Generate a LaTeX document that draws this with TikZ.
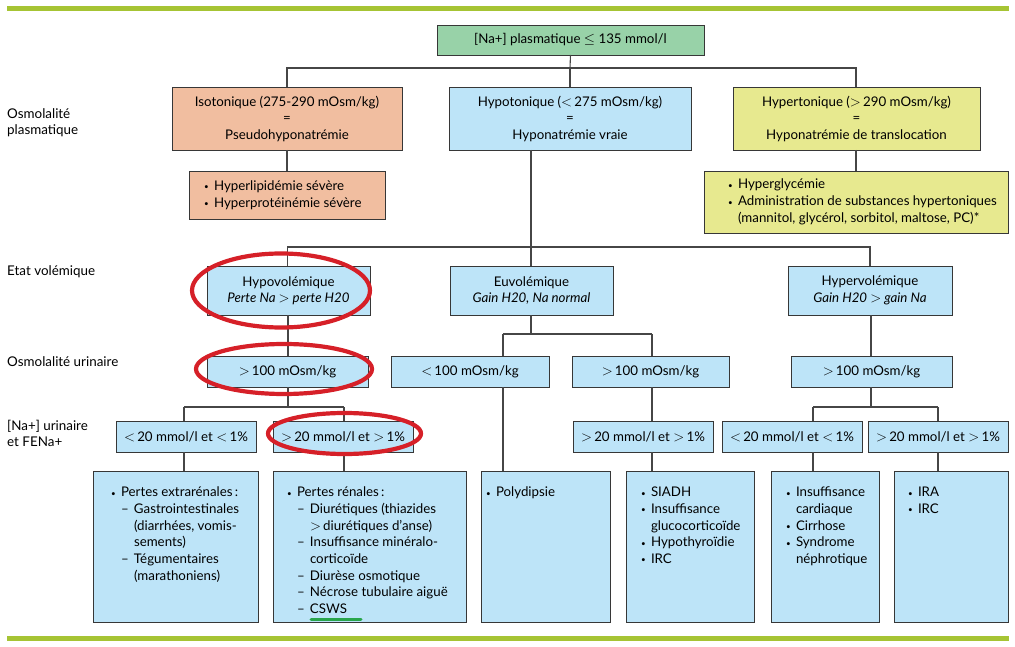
\documentclass[tikz,border=0pt]{standalone}
\usepackage{fontspec}
\setmainfont{Lato}
\definecolor{lineolive}{RGB}{166,196,52}
\definecolor{topgreen}{RGB}{152,210,168}
\definecolor{salmonbox}{RGB}{241,190,160}
\definecolor{bluebox}{RGB}{189,228,248}
\definecolor{yellowbox}{RGB}{231,233,143}
\definecolor{ringred}{RGB}{214,32,40}
\definecolor{ulgreen}{RGB}{40,165,75}
\definecolor{bordc}{RGB}{55,55,55}
\definecolor{connc}{RGB}{70,70,70}
\tikzset{
  box/.style={draw=bordc, line width=0.9pt, inner sep=0pt, outer sep=0pt, align=center,
    font=\fontsize{13.3}{16.5}\selectfont},
  gbox/.style={box, fill=topgreen},
  sbox/.style={box, fill=salmonbox},
  bbox/.style={box, fill=bluebox},
  ybox/.style={box, fill=yellowbox},
  conn/.style={draw=connc, line width=1.1pt},
  lab/.style={inner sep=0pt, align=left, anchor=west, font=\fontsize{13.4}{16}\selectfont},
  ring/.style={draw=ringred, line width=4.2pt},
  band/.style={draw=lineolive, line width=5pt}
}
% name, x1, y1, x2, y2, style, content
\newcommand\bx[7]{\node[#6, minimum width={(#4)-(#2)}, minimum height={(#5)-(#3)}] (#1) at ({((#2)+(#4))/2},{((#3)+(#5))/2}) {#7};}
% height, width, left pad, inner pos, content
\newcommand\lst[5]{\parbox[c][#1pt][#4]{#2pt}{\raggedright\leftskip=#3pt\parindent=0pt\fontsize{13.3}{16.7}\selectfont #5}}
\newcommand\bu{\makebox[10pt][l]{\raisebox{0.6pt}{\footnotesize\textbullet}}}
\newcommand\ci{\hspace*{10pt}}
\newcommand\da{\hspace*{10pt}\makebox[13pt][l]{–}}
\newcommand\cii{\hspace*{23pt}}
\begin{document}
\begin{tikzpicture}[x=1pt,y=-1pt]
\useasboundingbox (0,0) rectangle (1015,647);
\fill[white] (0,0) rectangle (1015,647);
\draw[band] (7,9) -- (1009,9);
\draw[band] (7,638) -- (1009,638);

% left labels
\node[lab] (lb1) at (7,123) {Osmolalité\\plasmatique};
\node[lab] (lb2) at (7,272) {Etat volémique};
\node[lab] (lb3) at (7,362) {Osmolalité urinaire};
\node[lab] (lb4) at (7,433) {[Na+] urinaire\\et FENa+};

% boxes
\bx{top}{437}{25}{704}{55}{gbox}{[Na+] plasmatique $\leq$ 135 mmol/l}
\bx{iso}{172}{87}{402}{150}{sbox}{Isotonique (275-290 mOsm/kg)\\=\\Pseudohyponatrémie}
\bx{hypo}{449}{87}{691}{150}{bbox}{Hypotonique ($<$\,275 mOsm/kg)\\=\\Hyponatrémie vraie}
\bx{hyper}{733}{87}{980}{150}{ybox}{Hypertonique ($>$\,290 mOsm/kg)\\=\\Hyponatrémie de translocation}
\bx{isol}{189}{171}{385}{219}{sbox}{\lst{48}{196}{15}{c}{\bu Hyperlipidémie sévère\\\bu Hyperprotéinémie sévère}}
\bx{hyperl}{704}{171}{1008}{233}{ybox}{\lst{62}{304}{24}{c}{\bu Hyperglycémie\\\bu Administration de substances hypertoniques\\\ci(mannitol, glycérol, sorbitol, maltose, PC)*}}

\bx{hypov}{207}{266}{370}{315}{bbox}{Hypovolémique\\\textit{Perte Na $>$ perte H20}}
\bx{euv}{450}{266}{613}{315}{bbox}{Euvolémique\\\textit{Gain H20, Na normal}}
\bx{hyperv}{788}{266}{952}{315}{bbox}{Hypervolémique\\\textit{Gain H20 $>$ gain Na}}

\bx{u1}{207}{356}{368}{387}{bbox}{$>$\,100 mOsm/kg}
\bx{u2}{391}{356}{549}{387}{bbox}{$<$\,100 mOsm/kg}
\bx{u3}{572}{356}{729}{387}{bbox}{$>$\,100 mOsm/kg}
\bx{u4}{791}{356}{952}{387}{bbox}{$>$\,100 mOsm/kg}

\bx{n1}{116}{421}{256}{452}{bbox}{$<$\,20 mmol/l et $<$\,1\%}
\bx{n2}{273}{421}{413}{452}{bbox}{$>$\,20 mmol/l et $>$\,1\%}
\bx{n3}{573}{421}{713}{452}{bbox}{$>$\,20 mmol/l et $>$\,1\%}
\bx{n4}{722}{421}{862}{452}{bbox}{$<$\,20 mmol/l et $<$\,1\%}
\bx{n5}{868}{421}{1008}{452}{bbox}{$>$\,20 mmol/l et $>$\,1\%}

\bx{b1}{93}{471}{258}{622}{bbox}{\lst{151}{165}{18}{t}{\vspace*{14pt}\strut\bu Pertes extrarénales\,:\\\da Gastrointestinales\\\cii(diarrhées, vomis-\\\cii sements)\\\da Tégumentaires\\\cii(marathoniens)}}
\bx{b2}{273}{471}{466}{622}{bbox}{\lst{151}{193}{14}{t}{\vspace*{14pt}\strut\bu Pertes rénales\,:\\\da Diurétiques (thiazides\\\cii$>$\,diurétiques d’anse)\\\da Insuffisance minéralo-\\\cii corticoïde\\\da Diurèse osmotique\\\da Nécrose tubulaire aiguë\\\da CSWS}}
\bx{b3}{481}{471}{610}{622}{bbox}{\lst{151}{129}{5}{t}{\vspace*{14pt}\strut\bu Polydipsie}}
\bx{b4}{626}{471}{754}{622}{bbox}{\lst{151}{128}{15}{t}{\vspace*{14pt}\strut\bu SIADH\\\bu Insuffisance\\\ci glucocorticoïde\\\bu Hypothyroïdie\\\bu IRC}}
\bx{b5}{771}{471}{879}{622}{bbox}{\lst{151}{108}{15}{t}{\vspace*{14pt}\strut\bu Insuffisance\\\ci cardiaque\\\bu Cirrhose\\\bu Syndrome\\\ci néphrotique}}
\bx{b6}{894}{471}{1008}{622}{bbox}{\lst{151}{114}{14}{t}{\vspace*{14pt}\strut\bu IRA\\\bu IRC}}

% connectors level 1
\coordinate (j1) at (570,68);
\draw[conn] (top.south) -- (j1);
\draw[conn] (j1) -| (iso.north);
\draw[conn] (j1) -- (hypo.north -| j1);
\draw[conn] (j1) -| (hyperl.north |- hyper.north);
\draw[conn] (iso.south) -- (isol.north -| iso.south);
\draw[conn] (hyperl.north |- hyper.south) -- (hyperl.north);

% volemia
\coordinate (j2) at (531,247);
\draw[conn] (hypo.south -| j2) -- (j2);
\draw[conn] (j2) -| (u1.north |- hypov.north);
\draw[conn] (j2) -- (euv.north -| j2);
\draw[conn] (j2) -| (hyperv.north);

% hypovolemic branch
\coordinate (j3) at (288,407);
\coordinate (k1) at (184,407);
\coordinate (k2) at (344,407);
\draw[conn] (hypov.south -| j3) -- (u1.north -| j3);
\draw[conn] (u1.south -| j3) -- (j3);
\draw[conn] (k1) -- (k2);
\draw[conn] (k1) -- (n1.north -| k1);
\draw[conn] (k2) -- (n2.north -| k2);
\draw[conn] (n1.south -| k1) -- (b1.north -| k1);
\draw[conn] (n2.south -| k2) -- (b2.north -| k2);

% euvolemic branch
\coordinate (j4) at (531,334);
\coordinate (k3) at (503,334);
\coordinate (k4) at (652,334);
\draw[conn] (euv.south -| j4) -- (j4);
\draw[conn] (k3) -- (k4);
\draw[conn] (k3) -- (u2.north -| k3);
\draw[conn] (k4) -- (u3.north -| k4);
\draw[conn] (u2.south -| k3) -- (b3.north -| k3);
\draw[conn] (u3.south -| k4) -- (n3.north -| k4);
\draw[conn] (n3.south -| k4) -- (b4.north -| k4);

% hypervolemic branch
\coordinate (j5) at (871,407);
\coordinate (k5) at (813,407);
\coordinate (k6) at (938,407);
\draw[conn] (hyperv.south -| j5) -- (u4.north -| j5);
\draw[conn] (u4.south -| j5) -- (j5);
\draw[conn] (k5) -- (k6);
\draw[conn] (k5) -- (n4.north -| k5);
\draw[conn] (k6) -- (n5.north -| k6);
\draw[conn] (n4.south -| k5) -- (b5.north -| k5);
\draw[conn] (n5.south -| k6) -- (b6.north -| k6);

% red rings
\draw[ring] (281,290.5) ellipse [x radius=89, y radius=37];
\draw[ring] (284,369) ellipse [x radius=88, y radius=25];
\draw[ring] (344.5,433.5) ellipse [x radius=76.5, y radius=20.5];

% green underline under CSWS
\draw[draw=ulgreen, line width=3pt, line cap=round] (311,619) -- (361,619);
\end{tikzpicture}
\end{document}
